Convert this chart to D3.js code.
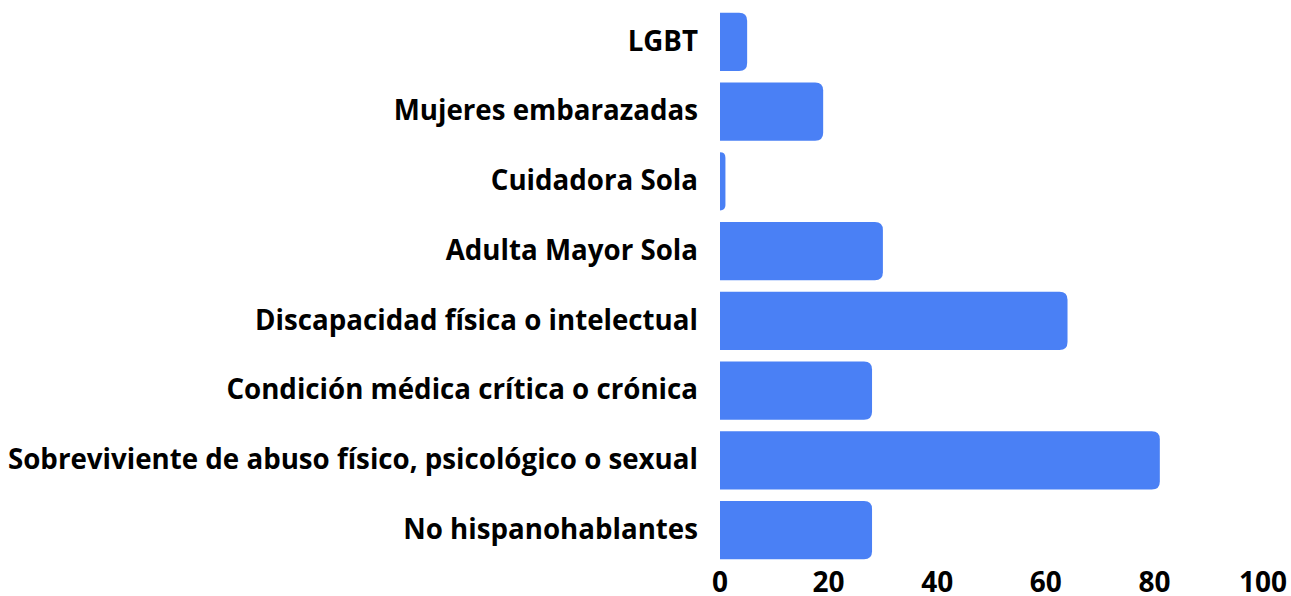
<!DOCTYPE html>
<html>
<head>
<meta charset="utf-8">
<script src="https://cdn.jsdelivr.net/npm/d3@7"></script>
<style>
  body { margin: 0; background: #fff; }
  text { font-family: "Open Sans", "Noto Sans", sans-serif; font-weight: 700; fill: #000; }
</style>
</head>
<body>
<div id="chart"></div>
<script>
// data
var categories = [
    "LGBT",
    "Mujeres embarazadas",
    "Cuidadora Sola",
    "Adulta Mayor Sola",
    "Discapacidad física o intelectual",
    "Condición médica crítica o crónica",
    "Sobreviviente de abuso físico, psicológico o sexual",
    "No hispanohablantes"
];
var values = [5, 19, 1, 30, 64, 28, 81, 28];
var xTicks = [0, 20, 40, 60, 80, 100];

var width = 1291, height = 596;

var svg = d3.select("#chart").append("svg")
    .attr("width", width)
    .attr("height", height);

// scales
var x = d3.scaleLinear().domain([0, 100]).range([720, 1263]);
var y = d3.scaleBand()
    .domain(categories)
    .range([7, 565])
    .paddingInner(0.168)
    .paddingOuter(0.084);

// bars with rounded right end
var r = 8;
function barPath(d, i) {
    var x0 = x(0), x1 = x(values[i]), y0 = y(d), h = y.bandwidth();
    var rr = Math.min(r, (x1 - x0), h / 2);
    return "M" + x0 + "," + y0 +
        "H" + (x1 - rr) +
        "Q" + x1 + "," + y0 + " " + x1 + "," + (y0 + rr) +
        "V" + (y0 + h - rr) +
        "Q" + x1 + "," + (y0 + h) + " " + (x1 - rr) + "," + (y0 + h) +
        "H" + x0 + "Z";
}

svg.append("g")
    .selectAll("path")
    .data(categories)
    .enter().append("path")
    .attr("d", barPath)
    .attr("fill", "#4a80f5");

// category labels
svg.append("g")
    .selectAll("text")
    .data(categories)
    .enter().append("text")
    .attr("x", 698)
    .attr("y", function (d) { return y(d) + y.bandwidth() / 2; })
    .attr("dy", "0.32em")
    .attr("text-anchor", "end")
    .style("font-size", "27.7px")
    .text(function (d) { return d; });

// x axis tick labels
svg.append("g")
    .selectAll("text")
    .data(xTicks)
    .enter().append("text")
    .attr("x", function (d) { return x(d); })
    .attr("y", 592)
    .attr("text-anchor", "middle")
    .style("font-size", "28px")
    .text(function (d) { return d; });
</script>
</body>
</html>
